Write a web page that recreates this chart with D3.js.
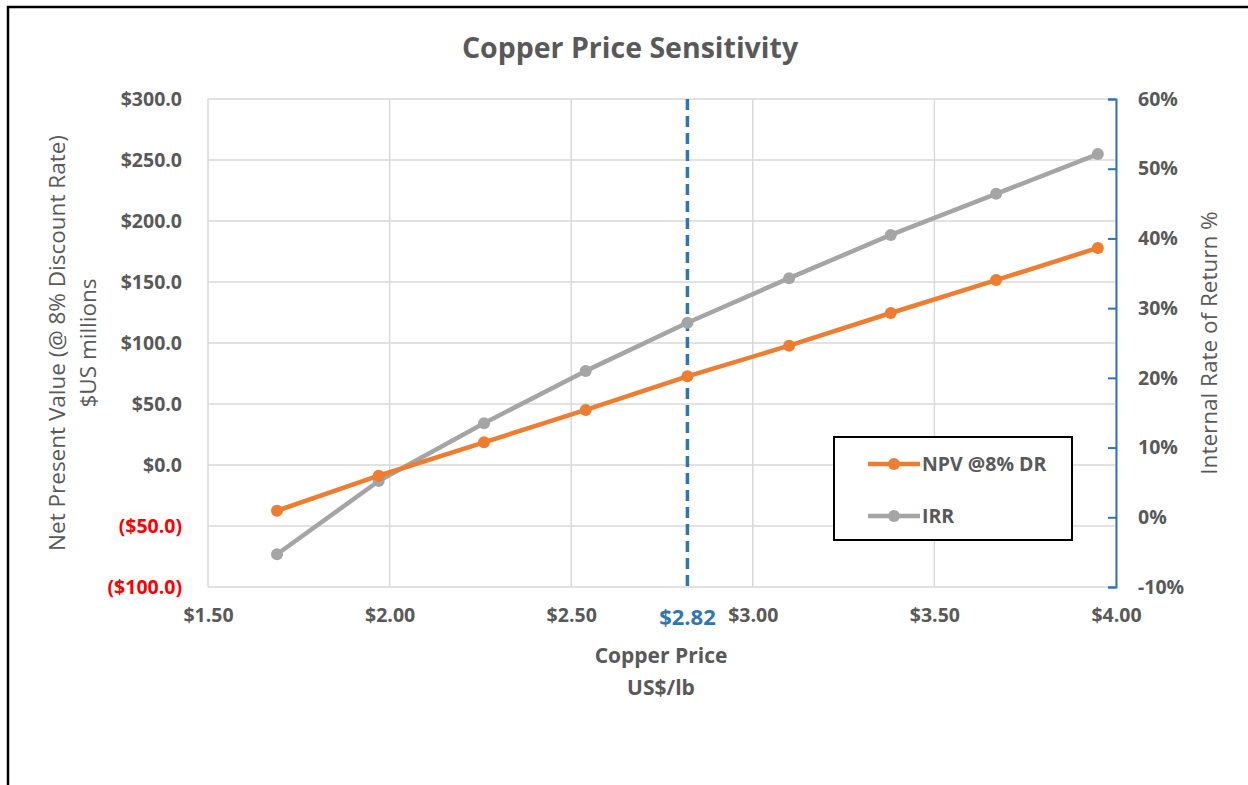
<!DOCTYPE html>
<html>
<head>
<meta charset="utf-8">
<script src="https://cdn.jsdelivr.net/npm/d3@7"></script>
<style>
  body { margin: 0; background: #fff; }
  svg { display: block; }
</style>
</head>
<body>
<svg id="chart"></svg>
<script>
// values
const price = [1.69, 1.97, 2.26, 2.54, 2.82, 3.10, 3.38, 3.67, 3.95];
const npv = [-37.5, -8.8, 18.6, 45.1, 72.7, 97.8, 124.6, 151.6, 177.9];
const irr = [-5.3, 5.2, 13.5, 21.0, 27.9, 34.3, 40.5, 46.4, 52.1];
const xTicks = [1.5, 2.0, 2.5, 3.0, 3.5, 4.0];
const npvTicks = [-100, -50, 0, 50, 100, 150, 200, 250, 300];
const irrTicks = [-10, 0, 10, 20, 30, 40, 50, 60];
const basePrice = 2.82;
const seriesNames = ["NPV @8% DR", "IRR"];

const W = 1248, H = 785;
const font = "'Open Sans', 'Noto Sans', sans-serif";
const textCol = "#595959";

const margin = ({ top: 99, right: 132, bottom: 198, left: 208 });

const svg = d3.select("#chart")
    .attr("width", W)
    .attr("height", H)
    .attr("font-family", font);

// frame
svg.append("path")
    .attr("d", `M8,${H}V7H${W}`)
    .attr("fill", "none")
    .attr("stroke", "#000")
    .attr("stroke-width", 2.5);

const x = d3.scaleLinear()
    .domain([1.5, 4.0])
    .range([margin.left, W - margin.right]);

const y = d3.scaleLinear()
    .domain([-100, 300])
    .range([H - margin.bottom, margin.top]);

const y2 = d3.scaleLinear()
    .domain([-10, 60])
    .range([H - margin.bottom, margin.top]);

// grid
svg.append("g")
    .selectAll("line.h")
    .data(npvTicks)
    .join("line")
    .attr("x1", x.range()[0])
    .attr("x2", x.range()[1])
    .attr("y1", d => y(d))
    .attr("y2", d => y(d))
    .attr("stroke", "#d9d9d9")
    .attr("stroke-width", 1.5);

svg.append("g")
    .selectAll("line.v")
    .data(xTicks)
    .join("line")
    .attr("x1", d => x(d))
    .attr("x2", d => x(d))
    .attr("y1", y.range()[0])
    .attr("y2", y.range()[1])
    .attr("stroke", "#d9d9d9")
    .attr("stroke-width", 1.5);

// left axis
const yAxis = svg.append("g")
    .attr("transform", `translate(${margin.left},0)`)
    .call(d3.axisLeft(y).tickValues(npvTicks).tickSize(0).tickPadding(26)
        .tickFormat(d => d < 0 ? `($${Math.abs(d).toFixed(1)})` : `$${d.toFixed(1)}`));
yAxis.select(".domain").remove();
yAxis.selectAll("text")
    .attr("font-family", font)
    .attr("font-size", 19.5)
    .attr("font-weight", "bold")
    .attr("fill", d => d < 0 ? "#ff0000" : textCol);

// bottom axis
const xAxis = svg.append("g")
    .attr("transform", `translate(0,${y.range()[0]})`)
    .call(d3.axisBottom(x).tickValues(xTicks).tickSize(0).tickPadding(21)
        .tickFormat(d => `$${d.toFixed(2)}`));
xAxis.select(".domain").remove();
xAxis.selectAll("text")
    .attr("font-family", font)
    .attr("font-size", 19.5)
    .attr("font-weight", "bold")
    .attr("fill", textCol);

// base price marker
svg.append("line")
    .attr("x1", x(basePrice))
    .attr("x2", x(basePrice))
    .attr("y1", y.range()[1])
    .attr("y2", y.range()[0])
    .attr("stroke", "#2e75b6")
    .attr("stroke-width", 3.5)
    .attr("stroke-dasharray", "11,6");

svg.append("text")
    .attr("x", x(basePrice))
    .attr("y", 625)
    .attr("text-anchor", "middle")
    .attr("font-size", 22)
    .attr("font-weight", "bold")
    .attr("fill", "#2e75b6")
    .text(`$${basePrice.toFixed(2)}`);

// right axis
const y2Axis = svg.append("g")
    .attr("transform", `translate(${x.range()[1]},0)`)
    .call(d3.axisRight(y2).tickValues(irrTicks).tickSizeInner(-8).tickSizeOuter(-8).tickPadding(22)
        .tickFormat(d => `${d}%`));
y2Axis.selectAll(".domain, line")
    .attr("stroke", "#2e75b6")
    .attr("stroke-width", 2);
y2Axis.selectAll("text")
    .attr("font-family", font)
    .attr("font-size", 19.5)
    .attr("font-weight", "bold")
    .attr("fill", textCol);

// series
const npvData = price.map((p, i) => ({ x: p, v: npv[i] }));
const irrData = price.map((p, i) => ({ x: p, v: irr[i] }));

const series = [
    { name: seriesNames[0], data: npvData, scale: y, color: "#ed7d31" },
    { name: seriesNames[1], data: irrData, scale: y2, color: "#a5a5a5" }
];

series.slice().reverse().forEach(s => {
    const line = d3.line()
        .x(d => x(d.x))
        .y(d => s.scale(d.v));
    svg.append("path")
        .datum(s.data)
        .attr("fill", "none")
        .attr("stroke", s.color)
        .attr("stroke-width", 4.5)
        .attr("stroke-linejoin", "round")
        .attr("d", line);
    svg.append("g")
        .selectAll("circle")
        .data(s.data)
        .join("circle")
        .attr("cx", d => x(d.x))
        .attr("cy", d => s.scale(d.v))
        .attr("r", 6)
        .attr("fill", s.color);
});

// title
svg.append("text")
    .attr("x", 630)
    .attr("y", 58)
    .attr("text-anchor", "middle")
    .attr("font-size", 28.5)
    .attr("font-weight", "bold")
    .attr("fill", textCol)
    .text("Copper Price Sensitivity");

// axis titles
const midY = (y.range()[0] + y.range()[1]) / 2;
const leftTitle = svg.append("text")
    .attr("transform", `translate(65,${midY}) rotate(-90)`)
    .attr("text-anchor", "middle")
    .attr("font-size", 22.5)
    .attr("fill", textCol);
leftTitle.append("tspan").attr("x", 0).attr("dy", 0).text("Net Present Value (@ 8% Discount Rate)");
leftTitle.append("tspan").attr("x", 0).attr("dy", 31).text("$US millions");

svg.append("text")
    .attr("transform", `translate(1217,${midY}) rotate(-90)`)
    .attr("text-anchor", "middle")
    .attr("font-size", 22.5)
    .attr("fill", textCol)
    .text("Internal Rate of Return %");

const bottomTitle = svg.append("text")
    .attr("x", 661)
    .attr("y", 663)
    .attr("text-anchor", "middle")
    .attr("font-size", 21)
    .attr("font-weight", "bold")
    .attr("fill", textCol);
bottomTitle.append("tspan").attr("x", 661).text("Copper Price");
bottomTitle.append("tspan").attr("x", 661).attr("dy", 32).text("US$/lb");

// legend
const legend = svg.append("g").attr("transform", "translate(834,437)");
legend.append("rect")
    .attr("width", 238)
    .attr("height", 103)
    .attr("fill", "#fff")
    .attr("stroke", "#000")
    .attr("stroke-width", 2);

const item = legend.selectAll("g.item")
    .data(series)
    .join("g")
    .attr("transform", (d, i) => `translate(0,${27 + i * 52})`);
item.append("line")
    .attr("x1", 34)
    .attr("x2", 86)
    .attr("stroke", d => d.color)
    .attr("stroke-width", 4.5);
item.append("circle")
    .attr("cx", 60)
    .attr("r", 6)
    .attr("fill", d => d.color);
item.append("text")
    .attr("x", 88)
    .attr("dy", "0.35em")
    .attr("font-size", 19.5)
    .attr("font-weight", "bold")
    .attr("fill", textCol)
    .text(d => d.name);
</script>
</body>
</html>
